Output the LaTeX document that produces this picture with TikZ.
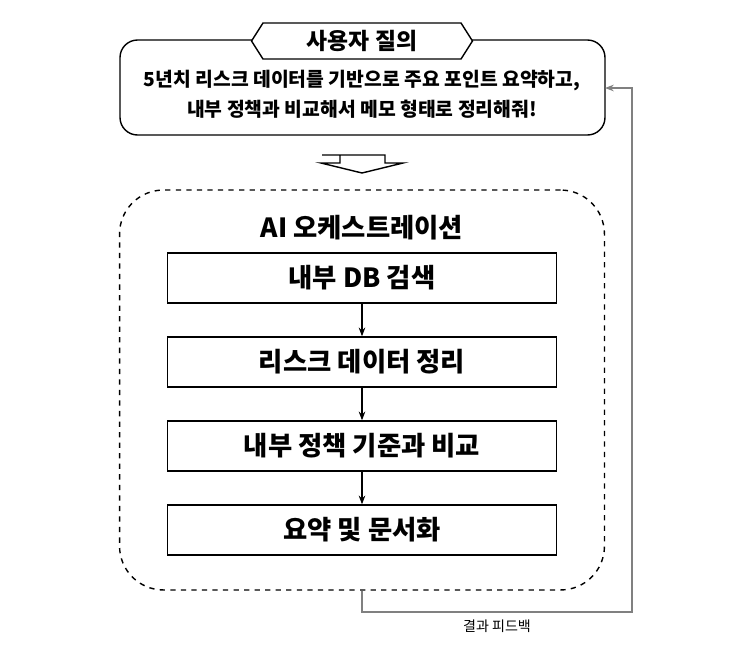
\documentclass[tikz,border=0pt]{standalone}
\usepackage{fontspec}
\setmainfont{Noto Sans CJK KR}
\usetikzlibrary{shapes.symbols,arrows.meta}
\begin{document}
\begin{tikzpicture}[x=0.02cm,y=-0.02cm,
    stepbox/.style ={draw, thick, minimum width=7.78cm, minimum height=1cm, font=\fontsize{15}{18}\selectfont\bfseries},
    flow/.style ={-{Stealth[length=5pt]}, semithick}]
   \useasboundingbox (0,0) rectangle (744,670);
   % question box
   \draw[thick,rounded corners=10] (120,40) rectangle (605,135);
   \node[signal, signal to=east and west, signal pointer angle=115, draw, thick, fill=white,
         minimum width=4.42cm, minimum height=0.72cm, font=\fontsize{13}{15}\selectfont\bfseries]
         (query) at (362,41) {사용자 질의};
   \node[align=center, font=\fontsize{11}{17}\selectfont\bfseries] (ask) at (362,94)
         {5년치 리스크 데이터를 기반으로 주요 포인트 요약하고,\\내부 정책과 비교해서 메모 형태로 정리해줘!};
   \draw[thick] (322,155) -- (385,155) -- (385,163) -- (403,163) -- (362,173) -- (321,163) -- (340,163) -- (340,155);
   % orchestration
   \node[draw, thick, dashed, rounded corners=25, minimum width=9.7cm, minimum height=8cm] (orch) at (362,390) {};
   \node[font=\fontsize{15}{18}\selectfont\bfseries] (title) at (362,228) {AI 오케스트레이션};
   \node[stepbox] (A) at (362,278) {내부 DB 검색};
   \node[stepbox] (B) at (362,362) {리스크 데이터 정리};
   \node[stepbox] (C) at (362,446) {내부 정책 기준과 비교};
   \node[stepbox] (D) at (362,530) {요약 및 문서화};

   \draw[flow] (A) to (B);
   \draw[flow] (B) to (C);
   \draw[flow] (C) to (D);
   % feedback
   \coordinate (back) at (605,88);
   \draw[flow, gray] (orch.south) -- (362,612) -- (632,612) -- (632,88) -- (back);
   \node[font=\fontsize{8}{10}\selectfont] (fb) at (497,626) {결과 피드백};
 \end{tikzpicture}
\end{document}
